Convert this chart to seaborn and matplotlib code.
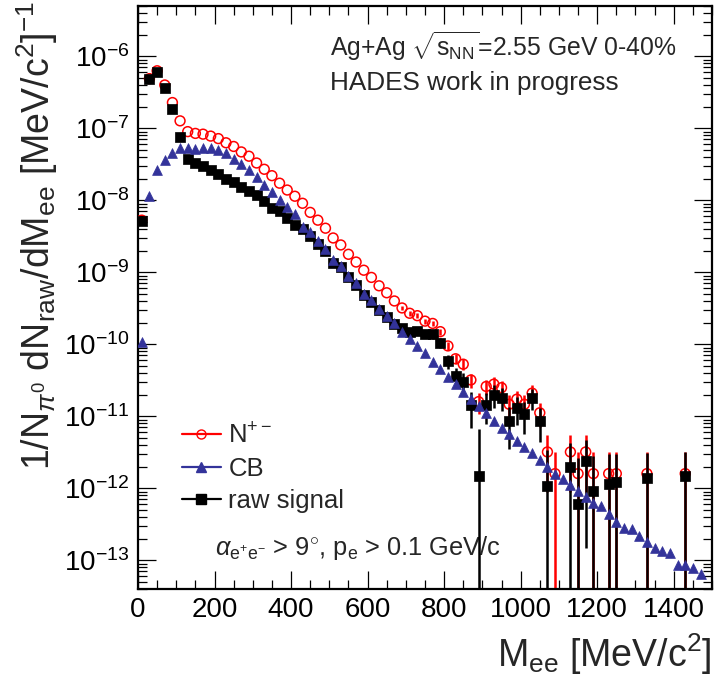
import numpy as np
import matplotlib
matplotlib.use("Agg")
import matplotlib.pyplot as plt
from matplotlib.lines import Line2D
from matplotlib.ticker import MultipleLocator, LogLocator, NullFormatter
import seaborn as sns

nan = np.nan

# bin centres [MeV/c^2]
mass = [10, 30, 50, 70, 90, 110, 130, 150, 170, 190,
        210, 230, 250, 270, 290, 310, 330, 350, 370, 390,
        410, 430, 450, 470, 490, 510, 530, 550, 570, 590,
        610, 630, 650, 670, 690, 710, 730, 750, 770, 790,
        810, 830, 850, 870, 890, 910, 930, 950, 970, 990,
        1010, 1030, 1050, 1070, 1090, 1110, 1130, 1150, 1170, 1190,
        1210, 1230, 1250, 1270, 1290, 1310, 1330, 1350, 1370, 1390,
        1410, 1430, 1450, 1470]

# N+- (red open circles)
n_pm = [5.3e-9, 4.9e-7, 6.3e-7, 4.0e-7, 2.28e-7, 1.27e-7, 9.0e-8, 8.5e-8, 8.3e-8, 7.8e-8,
        7.2e-8, 6.3e-8, 5.6e-8, 4.7e-8, 4.1e-8, 3.3e-8, 2.7e-8, 2.2e-8, 1.73e-8, 1.39e-8,
        1.14e-8, 9.1e-9, 6.8e-9, 5.3e-9, 4.1e-9, 3.0e-9, 2.4e-9, 1.78e-9, 1.39e-9, 1.07e-9,
        8.5e-10, 6.5e-10, 5.2e-10, 4.0e-10, 3.2e-10, 2.7e-10, 2.5e-10, 2.1e-10, 1.95e-10, 1.5e-10,
        9.5e-11, 6.3e-11, 5.3e-11, 3.2e-11, 1.6e-11, 2.6e-11, 2.8e-11, 2.5e-11, 1.47e-11, 1.73e-11,
        1.47e-11, 2.1e-11, 1.12e-11, 3.2e-12, 1.6e-12, nan, 3.2e-12, 1.6e-12, 3.2e-12, 1.6e-12,
        nan, 1.6e-12, 1.6e-12, nan, nan, nan, 1.6e-12, nan, nan, nan,
        nan, 1.6e-12, nan, nan]
n_pm_err = [0, 0, 0, 0, 0, 0, 0, 0, 0, 0,
            0, 0, 0, 0, 0, 0, 0, 0, 0, 0,
            0, 0, 0, 0, 0, 0, 0, 0, 0, 0,
            0, 0, 0, 0, 2.3e-11, 2.1e-11, 2.0e-11, 1.8e-11, 1.8e-11, 1.55e-11,
            1.2e-11, 1.0e-11, 9.2e-12, 7.2e-12, 5.1e-12, 6.4e-12, 6.7e-12, 6.3e-12, 4.9e-12, 5.3e-12,
            4.9e-12, 5.8e-12, 4.2e-12, 2.3e-12, 1.6e-12, nan, 2.3e-12, 1.6e-12, 2.3e-12, 1.6e-12,
            nan, 1.6e-12, 1.6e-12, nan, nan, nan, 1.6e-12, nan, nan, nan,
            nan, 1.6e-12, nan, nan]

# combinatorial background (blue triangles)
cb = [1.07e-10, 1.15e-8, 2.6e-8, 3.6e-8, 4.5e-8, 5.3e-8, 5.3e-8, 5.1e-8, 5.3e-8, 5.3e-8,
      5.0e-8, 4.5e-8, 3.8e-8, 3.2e-8, 2.6e-8, 2.1e-8, 1.62e-8, 1.3e-8, 1.0e-8, 8.1e-9,
      6.4e-9, 4.3e-9, 3.6e-9, 2.7e-9, 2.1e-9, 1.5e-9, 1.22e-9, 8.9e-10, 7.0e-10, 5.0e-10,
      4.1e-10, 3.1e-10, 2.5e-10, 1.95e-10, 1.5e-10, 1.17e-10, 9.5e-11, 7.5e-11, 5.6e-11, 4.5e-11,
      3.5e-11, 2.8e-11, 2.2e-11, 1.73e-11, 1.4e-11, 1.1e-11, 8.6e-12, 6.8e-12, 5.6e-12, 4.5e-12,
      3.8e-12, 3.1e-12, 2.5e-12, 2.0e-12, 1.6e-12, 1.33e-12, 1.1e-12, 9.1e-13, 7.6e-13, 6.3e-13,
      5.6e-13, 4.4e-13, 3.4e-13, 2.8e-13, 2.7e-13, 2.2e-13, 1.8e-13, 1.5e-13, 1.35e-13, 1.25e-13,
      8.6e-14, 8.6e-14, 7.9e-14, 6.4e-14]

# raw signal (black squares)
raw = [5.2e-9, 4.8e-7, 6.0e-7, 3.6e-7, 1.83e-7, 7.5e-8, 3.7e-8, 3.3e-8, 3.0e-8, 2.6e-8,
       2.3e-8, 1.95e-8, 1.77e-8, 1.55e-8, 1.35e-8, 1.17e-8, 9.8e-9, 7.9e-9, 7.1e-9, 5.7e-9,
       4.6e-9, 4.0e-9, 3.2e-9, 2.5e-9, 2.0e-9, 1.33e-9, 1.2e-9, 8.5e-10, 6.6e-10, 4.8e-10,
       3.9e-10, 3.0e-10, 2.4e-10, 1.9e-10, 1.7e-10, 1.5e-10, 1.55e-10, 1.4e-10, 1.37e-10, 1.05e-10,
       5.9e-11, 3.6e-11, 3.0e-11, 1.42e-11, 1.5e-12, 1.43e-11, 2.0e-11, 1.82e-11, 8.5e-12, 1.29e-11,
       1.07e-11, 1.82e-11, 8.7e-12, 1.08e-12, nan, nan, 2.0e-12, 6.0e-13, 2.4e-12, 9.3e-13,
       nan, 1.15e-12, 1.23e-12, nan, nan, nan, 1.41e-12, nan, nan, nan,
       nan, 1.5e-12, nan, nan]
raw_err = [0, 0, 0, 0, 0, 0, 0, 0, 0, 0,
           0, 0, 0, 0, 0, 0, 0, 0, 0, 0,
           0, 0, 0, 0, 0, 0, 0, 0, 0, 0,
           0, 0, 0, 0, 2.3e-11, 2.1e-11, 2.0e-11, 1.9e-11, 1.8e-11, 1.6e-11,
           1.3e-11, 1.05e-11, 9.5e-12, 7.4e-12, 5.2e-12, 6.5e-12, 6.8e-12, 6.4e-12, 5.0e-12, 5.4e-12,
           5.0e-12, 5.9e-12, 4.3e-12, 2.3e-12, nan, nan, 2.3e-12, 2.0e-12, 2.25e-12, 1.9e-12,
           nan, 1.8e-12, 1.8e-12, nan, nan, nan, 1.7e-12, nan, nan, nan,
           nan, 1.7e-12, nan, nan]

RED = "#ff0000"
BLUE = "#33339a"
BLACK = "#000000"

sns.set_theme(style="ticks")
plt.rcParams["font.family"] = ["Liberation Sans", "DejaVu Sans"]
plt.rcParams["mathtext.fontset"] = "custom"
plt.rcParams["mathtext.rm"] = "Liberation Sans"
plt.rcParams["mathtext.it"] = "Liberation Sans:italic"
plt.rcParams["mathtext.bf"] = "Liberation Sans:bold"

fig = plt.figure(figsize=(7.16, 6.82), dpi=100)
ax = fig.add_axes([0.1927, 0.1364, 0.8017, 0.8548])


def draw_err(vals, errs, color, z):
    v = np.array(vals, dtype=float)
    e = np.array(errs, dtype=float)
    m = np.array(mass, dtype=float)
    ok = ~np.isnan(v) & ~np.isnan(e) & (e > 0)
    # bars reaching zero go down to the frame on a log axis
    lo = np.minimum(e, v - 1e-16)
    ax.errorbar(m[ok], v[ok], yerr=[lo[ok], e[ok]], fmt="none",
                ecolor=color, elinewidth=1.8, capsize=0, zorder=z)


draw_err(n_pm, n_pm_err, RED, 2)
sns.scatterplot(x=mass, y=n_pm, marker="o", s=50, facecolor="none",
                edgecolor=RED, linewidth=1.1, ax=ax, zorder=3)
draw_err(raw, raw_err, BLACK, 4)
sns.scatterplot(x=mass, y=raw, marker="s", s=50, color=BLACK,
                edgecolor=BLACK, linewidth=0.5, ax=ax, zorder=5)
sns.scatterplot(x=mass, y=cb, marker="^", s=50, color=BLUE,
                edgecolor=BLUE, linewidth=0.5, ax=ax, zorder=6)

ax.set_yscale("log")
ax.set_xlim(0, 1500)
ax.set_ylim(4e-14, 5e-6)

ax.xaxis.set_major_locator(MultipleLocator(200))
ax.xaxis.set_minor_locator(MultipleLocator(50))
ax.yaxis.set_major_locator(LogLocator(base=10, numticks=20))
ax.yaxis.set_minor_locator(LogLocator(base=10, subs=np.arange(2, 10), numticks=20))
ax.yaxis.set_minor_formatter(NullFormatter())

ax.tick_params(which="both", direction="in", top=True, right=True,
               colors="black", labelsize=20)
ax.tick_params(which="major", length=13, width=0.9)
ax.tick_params(which="minor", length=6.5, width=0.9)
ax.tick_params(axis="x", pad=6)
ax.tick_params(axis="y", pad=6)
for sp in ax.spines.values():
    sp.set_linewidth(1.6)
    sp.set_color("black")

ax.set_xlabel(r"M$_{\rm ee}$ [MeV/c$^{2}$]", fontsize=27, loc="right", labelpad=6)
ax.set_ylabel(r"1/N$_{\pi^{0}}$ dN$_{\rm raw}$/dM$_{\rm ee}$ [MeV/c$^{2}$]$^{-1}$",
              fontsize=27, loc="top")
ax.yaxis.set_label_coords(-0.135, 1.01)

ax.text(0.334, 0.93, r"Ag+Ag $\sqrt{\mathrm{s}_{\rm NN}}$=2.55 GeV 0-40%",
        transform=ax.transAxes, fontsize=17.8, va="center", ha="left")
ax.text(0.334, 0.868, "HADES work in progress",
        transform=ax.transAxes, fontsize=18.8, va="center", ha="left")
ax.text(0.134, 0.07, r"$\alpha_{\rm e^{+}e^{-}}$ > 9$^{\circ}$, p$_{\rm e}$ > 0.1 GeV/c",
        transform=ax.transAxes, fontsize=18.3, va="center", ha="left")

handles = [
    Line2D([], [], color=RED, marker="o", mfc="none", mec=RED, ms=6.5, lw=1.6),
    Line2D([], [], color=BLUE, marker="^", mfc=BLUE, mec=BLUE, ms=6.5, lw=1.6),
    Line2D([], [], color=BLACK, marker="s", mfc=BLACK, mec=BLACK, ms=6.5, lw=1.6),
]
labels = [r"N$^{+-}$", "CB", "raw signal"]
ax.legend(handles, labels, loc="upper left", bbox_to_anchor=(0.0767, 0.285),
          frameon=False, fontsize=18.5, handlelength=1.5, handletextpad=0.3,
          labelspacing=0.33, borderaxespad=0, borderpad=0)

fig.savefig("out.png", dpi=100, facecolor="white")
